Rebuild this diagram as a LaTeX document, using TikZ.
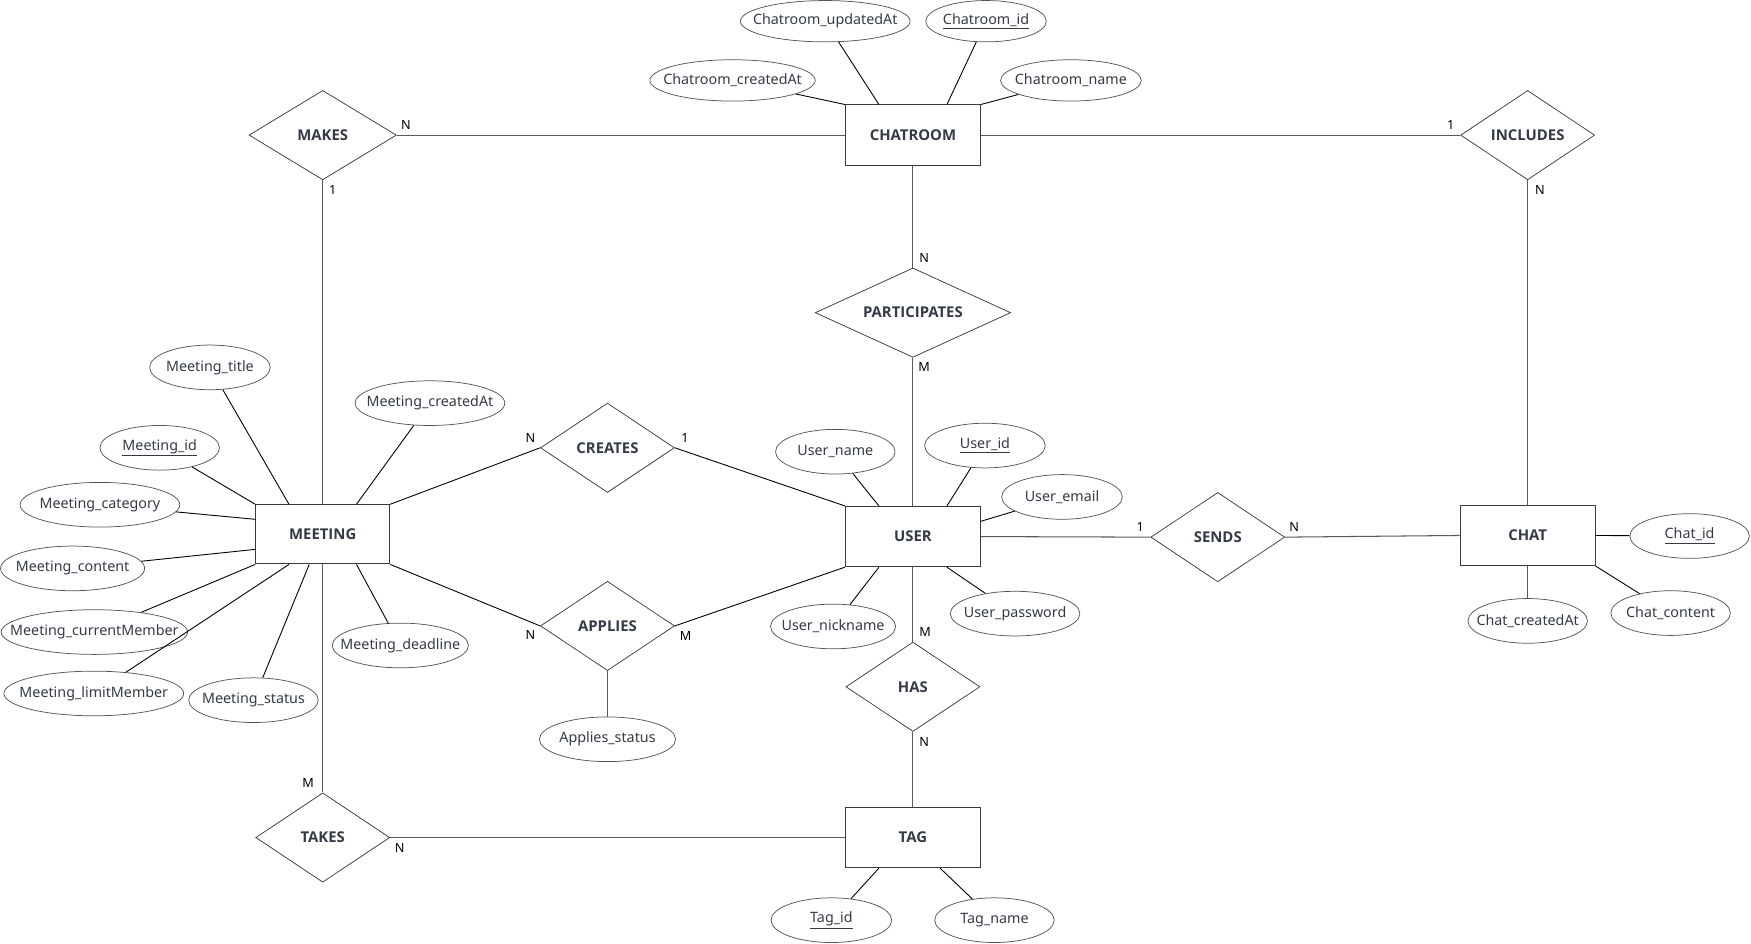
\documentclass[tikz,border=0pt]{standalone}
\usepackage{fontspec}
\setmainfont{Noto Sans}
\newfontfamily\headfont{Open Sans}
\usetikzlibrary{shapes.geometric,calc}
\definecolor{txt}{HTML}{333A45}
\definecolor{bordc}{HTML}{3A3A3A}
\definecolor{ellc}{HTML}{555555}
\definecolor{relc}{HTML}{5A5A5A}
\newcommand\zw[1]{\makebox[0pt]{#1}}
\tikzset{
  ent/.style={draw=bordc, line width=0.65pt, minimum width=0.75pt*121, minimum height=0.75pt*54, inner sep=0pt, font=\headfont\bfseries\fontsize{10}{12}\selectfont, text=txt},
  relbox/.style={diamond, draw=bordc, line width=0.5pt, minimum width=0.75pt*#1, minimum height=0.75pt*80, inner sep=0pt, font=\headfont\bfseries\fontsize{10}{12}\selectfont, text=txt},
  relbox/.default=120,
  attr/.style={ellipse, draw=ellc, line width=0.5pt, minimum width=0.75pt*#1, minimum height=0.75pt*40, inner sep=0pt, font=\fontsize{9.6}{12}\selectfont, text=txt},
  sattr/.style={attr=#1, minimum height=0.75pt*37},
  card/.style={font=\fontsize{8.5}{10}\selectfont, inner sep=0pt, text=black},
  aline/.style={draw=black, line width=0.6pt},
  rline/.style={draw=relc, line width=0.7pt},
}
\begin{document}
\begin{tikzpicture}[x=0.75pt,y=-0.75pt]
\useasboundingbox (0,0) rectangle (1568,845);

% entities
\node[ent] (chatroom) at (817.5,121) {CHATROOM};
\node[ent, minimum width=0.75pt*120, minimum height=0.75pt*53] (meeting) at (289,478.5) {MEETING};
\node[ent] (user) at (817.5,480.5) {USER};
\node[ent] (chat) at (1368,479.5) {CHAT};
\node[ent] (tag) at (817.5,750) {TAG};

% relationships
\node[relbox=132] (makes) at (289,121) {\zw{MAKES}};
\node[relbox] (includes) at (1368,121) {\zw{INCLUDES}};
\node[relbox=175] (participates) at (817.5,280) {\zw{PARTICIPATES}};
\node[relbox] (creates) at (544,401) {\zw{CREATES}};
\node[relbox] (applies) at (544,560.5) {\zw{APPLIES}};
\node[relbox] (sends) at (1090.5,481) {\zw{SENDS}};
\node[relbox] (has) at (817.5,615) {\zw{HAS}};
\node[relbox] (takes) at (289,750) {\zw{TAKES}};

% chatroom attributes
\node[sattr=152] (crupd) at (739,19) {\zw{Chatroom\_updatedAt}};
\node[sattr=108] (crid) at (883,19) {\zw{\underline{Chatroom\_id}}};
\node[sattr=148] (crcre) at (656,72) {\zw{Chatroom\_createdAt}};
\node[sattr=126] (crname) at (959,72) {\zw{Chatroom\_name}};

% meeting attributes
\node[attr=108] (mtitle) at (188,329) {\zw{Meeting\_title}};
\node[attr=134] (mcre) at (385,361) {\zw{Meeting\_createdAt}};
\node[attr=107] (mid) at (143,401) {\zw{\underline{Meeting\_id}}};
\node[attr=143] (mcat) at (89.5,452) {\zw{Meeting\_category}};
\node[attr=129] (mcont) at (65,509) {\zw{Meeting\_content}};
\node[attr=167] (mcur) at (84.5,566) {\zw{Meeting\_currentMember}};
\node[attr=161] (mlim) at (84,621) {\zw{Meeting\_limitMember}};
\node[attr=116] (mstat) at (227,627) {\zw{Meeting\_status}};
\node[attr=122] (mdead) at (358.5,578) {\zw{Meeting\_deadline}};

% user attributes
\node[attr=107] (uname) at (748,404.5) {\zw{User\_name}};
\node[attr=108] (uid) at (882,399) {\zw{\underline{User\_id}}};
\node[attr=108] (uemail) at (951,445) {\zw{User\_email}};
\node[attr=112] (unick) at (746,561) {\zw{User\_nickname}};
\node[attr=116] (upass) at (909,549.5) {\zw{User\_password}};

% chat attributes
\node[attr=107] (cid) at (1513,480) {\zw{\underline{Chat\_id}}};
\node[attr=107] (ccre) at (1368,556) {\zw{Chat\_createdAt}};
\node[attr=107] (ccont) at (1496,549) {\zw{Chat\_content}};

% relationship attribute
\node[attr=122] (astat) at (544,662) {\zw{Applies\_status}};

% tag attributes
\node[attr=108] (tid) at (744.5,824) {\zw{\underline{Tag\_id}}};
\node[attr=107] (tname) at (890.5,824) {\zw{Tag\_name}};

% attribute lines
\draw[aline] (crcre) -- (chatroom.north west);
\draw[aline] (crupd) -- ($(chatroom.north west)!0.25!(chatroom.north east)$);
\draw[aline] (crid) -- ($(chatroom.north west)!0.75!(chatroom.north east)$);
\draw[aline] (crname) -- (chatroom.north east);

\draw[aline] (mtitle) -- ($(meeting.north west)!0.25!(meeting.north east)$);
\draw[aline] (mcre) -- ($(meeting.north west)!0.75!(meeting.north east)$);
\draw[aline] (mid) -- (meeting.north west);
\draw[aline] (mcat) -- ($(meeting.north west)!0.25!(meeting.south west)$);
\draw[aline] (mcont) -- ($(meeting.north west)!0.75!(meeting.south west)$);
\draw[aline] (mcur) -- (meeting.south west);
\draw[aline] (mlim) -- ($(meeting.south west)!0.25!(meeting.south east)$);
\draw[aline] (mstat) -- ($(meeting.south west)!0.4!(meeting.south east)$);
\draw[aline] (mdead) -- ($(meeting.south west)!0.75!(meeting.south east)$);

\draw[aline] (uname) -- ($(user.north west)!0.25!(user.north east)$);
\draw[aline] (uid) -- ($(user.north west)!0.75!(user.north east)$);
\draw[aline] (uemail) -- ($(user.north east)!0.25!(user.south east)$);
\draw[aline] (unick) -- ($(user.south west)!0.25!(user.south east)$);
\draw[aline] (upass) -- ($(user.south west)!0.75!(user.south east)$);

\draw[aline] (cid) -- (chat.east);
\draw[rline] (ccre) -- (chat.south);
\draw[aline] (ccont) -- (chat.south east);

\draw[rline] (astat) -- (applies.south);

\draw[aline] (tid) -- ($(tag.south west)!0.25!(tag.south east)$);
\draw[aline] (tname) -- ($(tag.south west)!0.7!(tag.south east)$);

% relationship lines
\draw[rline] (makes.east) -- (chatroom.west);
\draw[rline] (makes.south) -- (meeting.north);
\draw[rline] (includes.west) -- (chatroom.east);
\draw[rline] (includes.south) -- (chat.north);
\draw[rline] (participates.north) -- (chatroom.south);
\draw[rline] (participates.south) -- (user.north);
\draw[aline] (creates.west) -- (meeting.north east);
\draw[aline] (creates.east) -- (user.north west);
\draw[aline] (applies.west) -- (meeting.south east);
\draw[aline] (applies.east) -- (user.south west);
\draw[rline] (sends.west) -- (user.east);
\draw[rline] (sends.east) -- (chat.west);
\draw[rline] (has.north) -- (user.south);
\draw[rline] (has.south) -- (tag.north);
\draw[rline] (takes.north) -- (meeting.south);
\draw[rline] (takes.east) -- (tag.west);

% cardinalities
\node[card] (c1) at (363.5,111.5) {N};
\node[card] (c2) at (298,170) {1};
\node[card] (c3) at (1299,111.5) {1};
\node[card] (c4) at (1379,170) {N};
\node[card] (c5) at (827.5,231) {N};
\node[card] (c6) at (827.5,329) {M};
\node[card] (c7) at (475,392) {N};
\node[card] (c8) at (613.5,392) {1};
\node[card] (c9) at (475,569) {N};
\node[card] (c10) at (614,569.5) {M};
\node[card] (c11) at (1021,471.5) {1};
\node[card] (c12) at (1159,471.5) {N};
\node[card] (c13) at (828.5,566) {M};
\node[card] (c14) at (827.5,664.5) {N};
\node[card] (c15) at (276,701.5) {M};
\node[card] (c16) at (358,759) {N};
\end{tikzpicture}
\end{document}
